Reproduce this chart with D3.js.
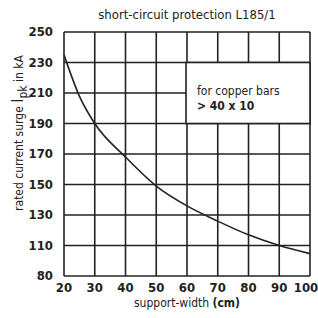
<!DOCTYPE html>
<html>
<head>
<meta charset="utf-8">
<script src="https://cdn.jsdelivr.net/npm/d3@7"></script>
<style>
body{margin:0;background:#fff;}
text{font-family:"Liberation Sans Narrow","DejaVu Sans Condensed",sans-serif;fill:#222;}
</style>
</head>
<body>
<svg id="canvas"></svg>
<script>
let widths=[20,25,30,40,50,60,70,80,90,100]
let currents=[235,208,190,168,149,136,126,117,110,102]
let xTicks=[20,30,40,50,60,70,80,90,100]
let yTicks=[80,110,130,150,170,190,210,230,250]

let width=318
let height=318
let padLeft=64, padRight=310, padTop=32, padBottom=276

let canvas=d3.select('#canvas')
canvas.attr('width',width).attr('height',height)

let xScale=d3.scaleLinear().domain([20,100]).range([padLeft,padRight])
let step=(padBottom-padTop)/8
let yScale=d3.scaleLinear().domain([80,110,250]).range([padBottom,padBottom-step,padTop])

// grid
canvas.append('g').selectAll('line').data(xTicks).enter().append('line')
  .attr('x1',d=>xScale(d)).attr('x2',d=>xScale(d))
  .attr('y1',padTop).attr('y2',padBottom)
  .attr('stroke','#222').attr('stroke-width',1.6)
canvas.append('g').selectAll('line').data(yTicks).enter().append('line')
  .attr('x1',padLeft).attr('x2',padRight)
  .attr('y1',d=>yScale(d)).attr('y2',d=>yScale(d))
  .attr('stroke','#222').attr('stroke-width',1.6)

// note box
canvas.append('rect')
  .attr('x',xScale(60)-1).attr('y',yScale(230))
  .attr('width',xScale(100)-xScale(60)+1).attr('height',yScale(190)-yScale(230))
  .attr('fill','#fff').attr('stroke','#222').attr('stroke-width',1.6)
canvas.append('text').attr('x',xScale(60)+10).attr('y',yScale(210)+2)
  .attr('font-size',12).text('for copper bars')
canvas.append('text').attr('x',xScale(60)+10).attr('y',yScale(210)+17)
  .attr('font-size',12).attr('font-weight','bold').text('> 40 x 10')

// curve
let line=d3.line().x(d=>xScale(d[0])).y(d=>yScale(d[1])).curve(d3.curveMonotoneX)
canvas.append('path').datum(d3.zip(widths,currents))
  .attr('d',line).attr('fill','none').attr('stroke','#222').attr('stroke-width',1.6)

// axes labels
canvas.append('g').selectAll('text').data(yTicks).enter().append('text')
  .attr('x',padLeft-11).attr('y',d=>yScale(d)+4).attr('text-anchor','end')
  .attr('font-size',13).attr('font-weight','bold').text(d=>d)
canvas.append('g').selectAll('text').data(xTicks).enter().append('text')
  .attr('x',d=>Math.min(xScale(d),width-12)).attr('y',padBottom+16).attr('text-anchor','middle')
  .attr('font-size',13).attr('font-weight','bold').text(d=>d)

canvas.append('text').attr('x',(padLeft+padRight)/2).attr('y',19).attr('text-anchor','middle')
  .attr('font-size',13).text('short-circuit protection L185/1')

let xt=canvas.append('text').attr('x',(padLeft+padRight)/2).attr('y',padBottom+31).attr('text-anchor','middle')
  .attr('font-size',12)
xt.append('tspan').text('support-width ')
xt.append('tspan').attr('font-weight','bold').text('(cm)')

let yt=canvas.append('text').attr('transform','translate(23,133) rotate(-90)')
  .attr('text-anchor','middle').attr('font-size',12)
yt.append('tspan').text('rated current surge ')
yt.append('tspan').attr('font-size',16).text('I')
yt.append('tspan').attr('dy',4).attr('font-size',12).text('pk')
yt.append('tspan').attr('dy',-4).text(' in kA')
</script>
</body>
</html>
